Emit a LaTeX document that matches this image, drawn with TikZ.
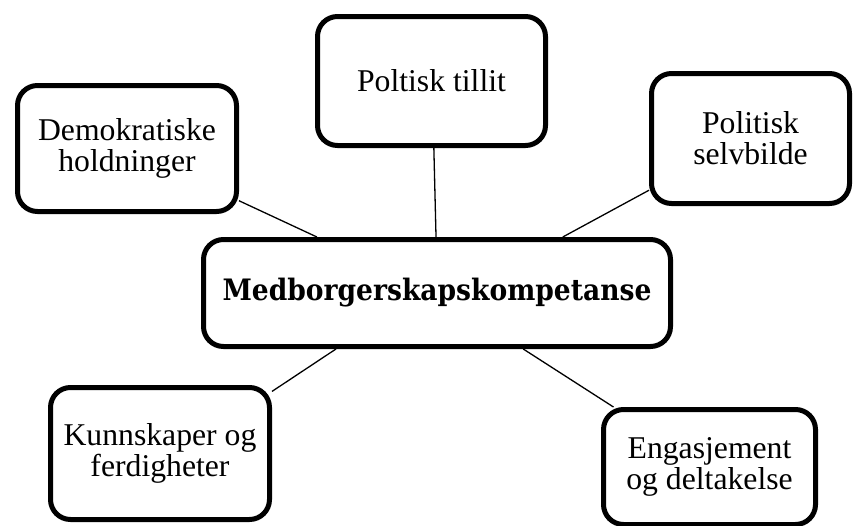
\documentclass[tikz,border=0pt]{standalone}
\usepackage{fontspec}
\setmainfont{Liberation Serif}
\newfontfamily\centerfont{DejaVu Serif}[FakeStretch=0.9]
\begin{document}
\begin{tikzpicture}[x=1pt,y=-1pt,
  box/.style={draw, line width=5pt, rounded corners=20pt, inner sep=0pt,
    align=center, font=\fontsize{31.7}{31}\selectfont},
  link/.style={line width=1.3pt}]
\useasboundingbox (0,0) rectangle (853,525);
\node[box, minimum width=219pt, minimum height=126pt] (A) at (127,148.5) {Demokratiske\\holdninger};
\node[box, minimum width=228pt, minimum height=129pt] (B) at (431.5,81) {Poltisk tillit};
\node[box, minimum width=198pt, minimum height=130pt] (C) at (750.5,138.5) {Politisk\\selvbilde};
\node[box, minimum width=467pt, minimum height=107pt,
  font=\centerfont\bfseries\fontsize{29.5}{30}\selectfont] (D) at (437,293) {Medborgerskapskompetanse};
\node[box, minimum width=219pt, minimum height=132pt] (E) at (160,453.5) {Kunnskaper og\\ferdigheter};
\node[box, minimum width=212pt, minimum height=115pt] (F) at (709.5,467) {Engasjement\\og deltakelse};
\draw[link] (A.335.3) -- (D.155.7);
\draw[link] (B.272) -- (D.91);
\draw[link] (C.207.6) -- (D.24.8);
\draw[link] (E.29.2) -- (D.209.7);
\draw[link] (F.148.1) -- (D.327.9);
\end{tikzpicture}
\end{document}
